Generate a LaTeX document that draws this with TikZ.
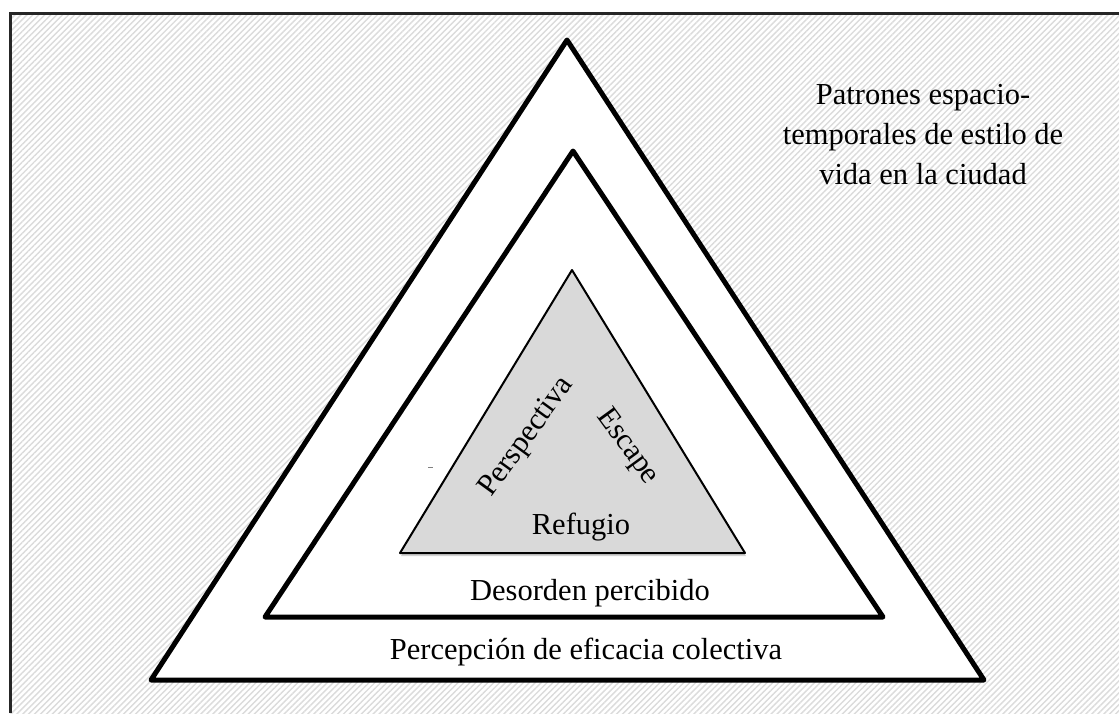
\documentclass[tikz,border=0pt]{standalone}
\usepackage{fontspec}
\setmainfont{Liberation Serif}
\usepackage{tikz}
\usetikzlibrary{patterns.meta,shadows}

\tikzset{
  lbl/.style={inner sep=0pt, font=\fontsize{30.5}{40}\selectfont},
  band/.style={draw=black, line width=5pt, fill=white, line join=round},
  core/.style={draw=black, line width=2pt, fill=black!15, line join=round,
    drop shadow={opacity=0.35, shadow xshift=1pt, shadow yshift=-3pt}}
}

\begin{document}
\begin{tikzpicture}[x=1pt,y=-1pt]
\useasboundingbox (0,0) rectangle (1119,713);

\fill[white] (0,0) rectangle (1119,713);
\fill[pattern={Lines[angle=45,distance=4.2pt,line width=1.4pt]}, pattern color=black!14]
  (10,13) rectangle (1119,713);
\draw[line width=3pt, black!85] (10,713) -- (10,13) -- (1119,13);

\coordinate (A) at (567,40);
\coordinate (B) at (151,680);
\coordinate (C) at (984,680);

\coordinate (D) at (573,151);
\coordinate (E) at (265,617);
\coordinate (F) at (883,617);

\coordinate (G) at (572,270);
\coordinate (H) at (400,553);
\coordinate (I) at (745,553);

\draw[band] (A) -- (B) -- (C) -- cycle;
\draw[band] (D) -- (E) -- (F) -- cycle;
\draw[core] (G) -- (H) -- (I) -- cycle;

\node[lbl] (refugio) at (581,527) {Refugio};
\node[lbl, rotate=54] (perspectiva) at (527,437) {Perspectiva};
\node[lbl, rotate=-54] (escape) at (627,447) {Escape};
\node[lbl] (desorden) at (590,593) {Desorden percibido};
\node[lbl] (eficacia) at (586,652) {Percepción de eficacia colectiva};
\node[lbl, align=center] (patrones) at (923,135)
  {Patrones espacio-\\temporales de estilo de\\vida en la ciudad};

\draw[black!50, line width=1pt] (428,467) -- (433,467);

\end{tikzpicture}
\end{document}
